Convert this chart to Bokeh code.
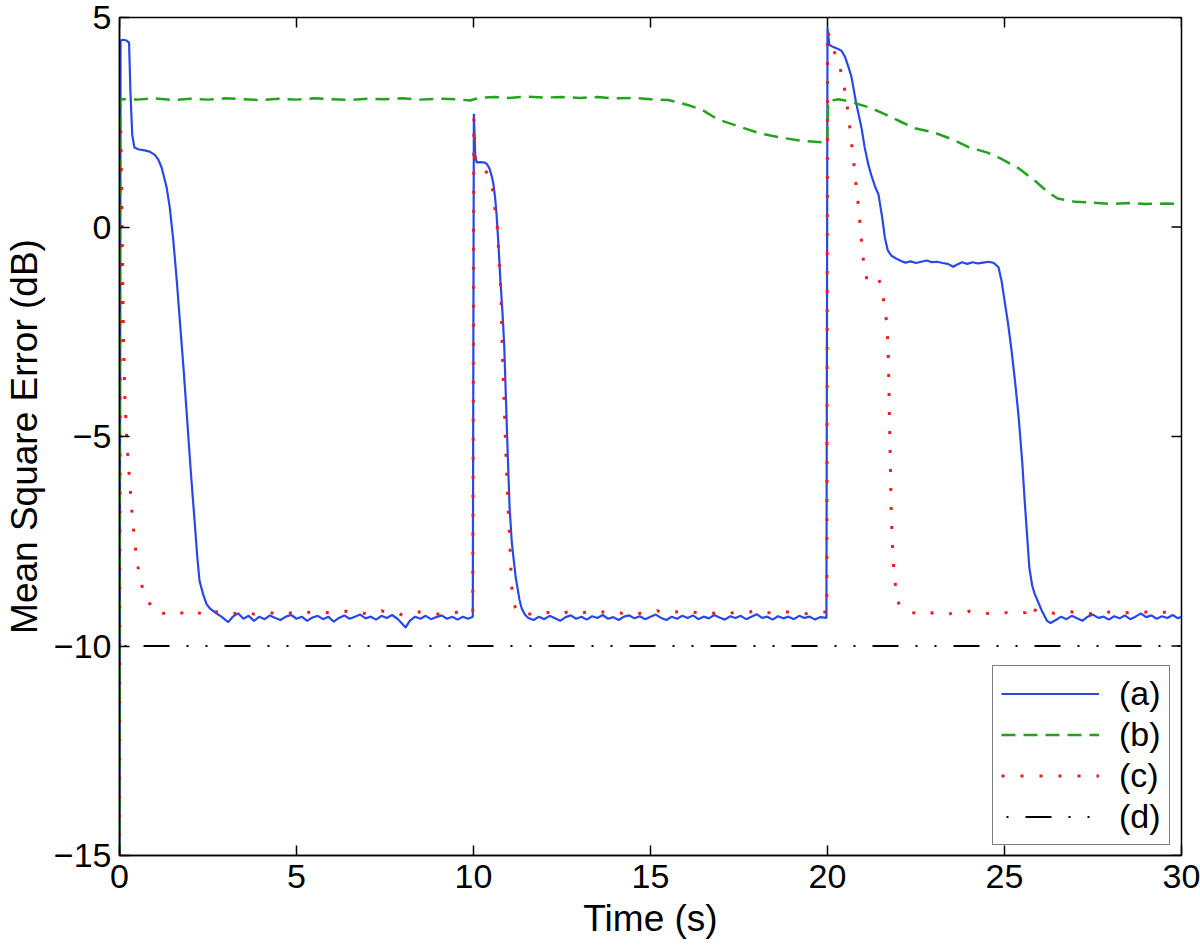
import math
from bokeh.plotting import figure
from bokeh.models import (Legend, LegendItem, FixedTicker,
                          CustomJSTickFormatter, Range1d)
from bokeh.embed import file_html
from bokeh.resources import INLINE

# ---------------- data ----------------
x_ticks = [0, 5, 10, 15, 20, 25, 30]
y_ticks = [-15, -10, -5, 0, 5]
legend_labels = ["(a)", "(b)", "(c)", "(d)"]

# (a) blue solid
t_a = [0.0, 0.03, 0.1, 0.2, 0.27, 0.31, 0.36, 0.42, 0.55, 0.71, 0.85, 1.0, 1.1, 1.19, 1.27, 1.33,
       1.42, 1.52, 1.62, 1.72, 1.82, 1.92, 2.02, 2.12, 2.2, 2.26, 2.36, 2.46, 2.55, 2.7, 2.88, 3.0,
       3.07, 3.2, 3.35, 3.5, 3.65, 3.8, 3.95, 4.1, 4.25, 4.4, 4.55, 4.7, 4.85, 5.0, 5.15, 5.3, 5.45,
       5.6, 5.75, 5.9, 6.05, 6.2, 6.35, 6.5, 6.65, 6.8, 6.95, 7.1, 7.25, 7.4, 7.55, 7.7, 7.85, 8.0,
       8.08, 8.2, 8.35, 8.5, 8.65, 8.8, 8.95, 9.1, 9.25, 9.4, 9.55, 9.7, 9.85, 9.98,
       10.01, 10.05, 10.09, 10.2, 10.31, 10.38, 10.45, 10.52, 10.56, 10.61, 10.65, 10.71, 10.76,
       10.82, 10.87, 10.92, 10.97, 11.02, 11.08, 11.13, 11.19, 11.24, 11.3, 11.36, 11.45,
       11.55, 11.7, 11.85, 12.0, 12.15, 12.3, 12.45, 12.6, 12.75, 12.9, 13.05, 13.2, 13.35, 13.5,
       13.65, 13.8, 13.95, 14.1, 14.25, 14.4, 14.55, 14.7, 14.85, 15.0, 15.15, 15.3, 15.45, 15.6,
       15.75, 15.9, 16.05, 16.2, 16.35, 16.5, 16.65, 16.8, 16.95, 17.1, 17.25, 17.4, 17.55, 17.7,
       17.85, 18.0, 18.15, 18.3, 18.45, 18.6, 18.75, 18.9, 19.05, 19.2, 19.35, 19.5, 19.65, 19.8,
       19.97,
       20.0, 20.05, 20.15, 20.3, 20.4, 20.5, 20.6, 20.68, 20.8, 20.9, 20.96, 21.05, 21.15, 21.25,
       21.35, 21.44, 21.55, 21.62, 21.7, 21.8, 21.95, 22.1, 22.2, 22.35, 22.5, 22.65, 22.8, 22.95,
       23.1, 23.25, 23.4, 23.55, 23.65, 23.8, 23.95, 24.1, 24.25, 24.4, 24.55, 24.7, 24.83, 24.92,
       25.0, 25.1, 25.2, 25.3, 25.4, 25.5, 25.57, 25.65, 25.7, 25.78, 25.85, 25.95, 26.05, 26.2,
       26.3, 26.45, 26.6, 26.75, 26.9, 27.05, 27.2, 27.35, 27.5, 27.65, 27.8, 27.95, 28.1, 28.25,
       28.4, 28.55, 28.7, 28.85, 29.0, 29.15, 29.3, 29.45, 29.6, 29.75, 29.9, 30.0]
mse_a = [-15.0, 4.45, 4.47, 4.45, 4.4, 3.2, 2.2, 1.9, 1.85, 1.83, 1.8, 1.72, 1.6, 1.42, 1.15, 0.95,
         0.47, -0.32, -1.3, -2.4, -3.5, -4.7, -5.9, -7.0, -7.9, -8.44, -8.76, -9.0, -9.1, -9.2, -9.3, -9.38,
         -9.43, -9.3, -9.22, -9.35, -9.28, -9.4, -9.3, -9.36, -9.27, -9.33, -9.38, -9.3, -9.26, -9.35, -9.3, -9.4, -9.32,
         -9.28, -9.36, -9.3, -9.42, -9.33, -9.27, -9.35, -9.3, -9.25, -9.34, -9.3, -9.37, -9.28, -9.33, -9.26, -9.35, -9.48,
         -9.56, -9.4, -9.3, -9.35, -9.28, -9.36, -9.31, -9.27, -9.35, -9.3, -9.37, -9.3, -9.35, -9.3,
         2.7, 1.7, 1.54, 1.55, 1.54, 1.5, 1.4, 1.2, 1.04, 0.7, 0.32, -0.49, -1.28,
         -2.06, -2.87, -4.2, -5.5, -6.7, -7.5, -7.9, -8.35, -8.6, -8.9, -9.1, -9.25,
         -9.33, -9.38, -9.3, -9.36, -9.28, -9.34, -9.4, -9.31, -9.27, -9.35, -9.3, -9.37, -9.29, -9.33,
         -9.26, -9.35, -9.31, -9.38, -9.3, -9.27, -9.34, -9.29, -9.36, -9.3, -9.25, -9.33, -9.38, -9.3,
         -9.35, -9.28, -9.33, -9.27, -9.36, -9.3, -9.34, -9.26, -9.32, -9.37, -9.29, -9.33, -9.28, -9.36,
         -9.3, -9.24, -9.33, -9.3, -9.37, -9.29, -9.34, -9.3, -9.36, -9.28, -9.33, -9.3, -9.37, -9.31,
         -9.33,
         4.76, 4.35, 4.3, 4.25, 4.2, 4.05, 3.8, 3.57, 3.0, 2.6, 2.37, 1.9, 1.5, 1.2,
         0.95, 0.78, 0.2, -0.25, -0.55, -0.68, -0.76, -0.82, -0.85, -0.82, -0.86, -0.83, -0.8, -0.84,
         -0.83, -0.86, -0.88, -0.95, -0.9, -0.84, -0.88, -0.84, -0.87, -0.85, -0.83, -0.86, -0.96, -1.3,
         -1.75, -2.3, -2.95, -3.7, -4.54, -5.6, -6.53, -7.5, -8.12, -8.55, -8.75, -8.95, -9.15, -9.4,
         -9.45, -9.38, -9.3, -9.36, -9.28, -9.34, -9.4, -9.3, -9.25, -9.33, -9.3, -9.37, -9.29, -9.34,
         -9.27, -9.36, -9.3, -9.22, -9.31, -9.27, -9.35, -9.29, -9.33, -9.26, -9.34, -9.3]

# (b) green dashed
t_b = [0.0, 0.02, 0.5, 1.0, 1.5, 2.0, 2.5, 3.0, 3.5, 4.0, 4.5, 5.0, 5.5, 6.0, 6.5, 7.0, 7.5, 8.0,
       8.5, 9.0, 9.5, 9.9, 10.2, 10.6, 11.0, 11.5, 12.0, 12.5, 13.0, 13.5, 14.0, 14.5, 15.0, 15.5,
       15.8, 16.1, 16.45, 16.8, 17.0, 17.5, 18.1, 18.7, 19.27, 19.9, 19.99,
       20.02, 20.3, 20.6, 21.2, 21.6, 22.1, 22.5, 23.0, 23.5, 24.0, 24.5, 24.9, 25.4, 25.85, 26.2,
       26.5, 27.0, 27.5, 28.0, 28.5, 29.0, 29.5, 30.0]
mse_b = [-15.0, 3.05, 3.04, 3.07, 3.03, 3.06, 3.04, 3.07, 3.05, 3.03, 3.06, 3.04, 3.07, 3.05, 3.03,
         3.06, 3.05, 3.07, 3.04, 3.06, 3.05, 3.02, 3.09, 3.1, 3.08, 3.11, 3.09, 3.1, 3.08, 3.1, 3.07,
         3.08, 3.05, 3.03, 2.97, 2.9, 2.8, 2.62, 2.54, 2.4, 2.23, 2.13, 2.06, 2.02, 2.0,
         3.0, 3.05, 3.0, 2.85, 2.7, 2.5, 2.35, 2.26, 2.1, 1.9, 1.78, 1.63, 1.4, 1.11, 0.85,
         0.68, 0.6, 0.58, 0.55, 0.57, 0.55, 0.56, 0.55]

# (c) red dotted
t_c = [0.0, 0.03, 0.05, 0.08, 0.11, 0.15, 0.2, 0.28, 0.37, 0.48, 0.6, 0.7, 0.81, 0.9, 1.0, 1.2, 1.4,
       1.6, 1.8, 2.0, 2.2, 2.4, 2.6, 2.8, 3.0, 3.2, 3.4, 3.6, 3.8, 4.0, 4.2, 4.4, 4.6, 4.8, 5.0, 5.2,
       5.4, 5.6, 5.8, 6.0, 6.2, 6.4, 6.6, 6.8, 7.0, 7.2, 7.4, 7.6, 7.8, 8.0, 8.2, 8.4, 8.6, 8.8, 9.0,
       9.2, 9.4, 9.6, 9.8, 9.98,
       10.01, 10.05, 10.15, 10.31, 10.42, 10.54, 10.6, 10.67, 10.7, 10.73, 10.76, 10.78, 10.8, 10.82,
       10.86, 10.92, 10.98, 11.02, 11.07, 11.13, 11.27, 11.4, 11.6, 11.8, 12.0, 12.2, 12.4, 12.6,
       12.8, 13.0, 13.2, 13.4, 13.6, 13.8, 14.0, 14.2, 14.4, 14.6, 14.8, 15.0, 15.2, 15.4, 15.6, 15.8,
       16.0, 16.2, 16.4, 16.6, 16.8, 17.0, 17.2, 17.4, 17.6, 17.8, 18.0, 18.2, 18.4, 18.6, 18.8, 19.0,
       19.2, 19.4, 19.6, 19.8, 19.98,
       20.0, 20.1, 20.25, 20.37, 20.48, 20.56, 20.62, 20.68, 20.74, 20.79, 20.85, 20.9, 20.94, 20.99,
       21.05, 21.15, 21.25, 21.35, 21.44, 21.53, 21.6, 21.67, 21.7, 21.72, 21.73, 21.74, 21.75, 21.76,
       21.77, 21.78, 21.79, 21.8, 21.82, 21.84, 21.87, 21.95, 22.03, 22.2, 22.4, 22.6, 22.8, 23.0,
       23.2, 23.4, 23.6, 23.8, 24.0, 24.2, 24.4, 24.6, 24.8, 25.0, 25.2, 25.4, 25.6, 25.7, 25.8, 26.0,
       26.2, 26.4, 26.6, 26.8, 27.0, 27.2, 27.4, 27.6, 27.8, 28.0, 28.2, 28.4, 28.6, 28.8, 29.0, 29.2,
       29.4, 29.6, 29.8, 30.0]
mse_c = [-15.0, 2.5, 1.5, -0.5, -2.6, -4.0, -5.0, -6.0, -7.0, -7.9, -8.5, -8.7, -8.9, -9.08, -9.2, -9.21, -9.25,
         -9.18, -9.22, -9.28, -9.2, -9.26, -9.15, -9.2, -9.17, -9.23, -9.2, -9.18, -9.24, -9.2, -9.19, -9.23, -9.17, -9.21, -9.2, -9.24,
         -9.18, -9.22, -9.19, -9.23, -9.2, -9.17, -9.22, -9.19, -9.24, -9.2, -9.16, -9.21, -9.19, -9.27, -9.22, -9.18, -9.21, -9.2, -9.24,
         -9.19, -9.22, -9.18, -9.16, -9.2,
         2.6, 1.6, 1.45, 1.37, 1.25, 0.89, 0.47, 0.0, -0.42, -0.87, -1.32, -1.78, -2.5, -3.1,
         -4.07, -5.5, -6.77, -7.4, -8.5, -8.99, -9.22, -9.2, -9.24, -9.17, -9.21, -9.19, -9.25, -9.2,
         -9.16, -9.22, -9.19, -9.23, -9.18, -9.21, -9.17, -9.22, -9.2, -9.25, -9.19, -9.21, -9.16, -9.22, -9.2, -9.18,
         -9.23, -9.19, -9.21, -9.17, -9.22, -9.2, -9.24, -9.18, -9.21, -9.19, -9.15, -9.22, -9.2, -9.23, -9.18, -9.21,
         -9.19, -9.23, -9.2, -9.17, -9.2,
         4.7, 4.4, 4.05, 3.74, 3.3, 2.85, 2.45, 2.0, 1.56, 1.13, 0.7, 0.27, -0.16, -0.61,
         -1.09, -1.32, -1.25, -1.22, -1.25, -1.4, -1.83, -2.28, -2.7, -3.19, -3.62, -4.07, -4.55, -5.0,
         -5.4, -5.9, -6.34, -6.77, -7.24, -7.67, -8.15, -8.8, -9.03, -9.15, -9.2, -9.24, -9.18, -9.22,
         -9.2, -9.25, -9.19, -9.21, -9.17, -9.22, -9.2, -9.24, -9.19, -9.21, -9.18, -9.22, -9.2, -9.0, -9.12, -9.2,
         -9.17, -9.22, -9.19, -9.16, -9.21, -9.18, -9.23, -9.2, -9.15, -9.21, -9.18, -9.22, -9.17, -9.2, -9.19, -9.16,
         -9.21, -9.18, -9.22, -9.2]

# (d) black dash-dot reference level
t_d = [0.0, 30.0]
mse_d = [-10.0, -10.0]

# ---------------- figure ----------------
FONT = "Liberation Sans"

p = figure(frame_width=1062, frame_height=838,
           x_range=Range1d(0, 30), y_range=Range1d(-15, 5),
           output_backend="svg", toolbar_location=None,
           min_border_left=118, min_border_right=20,
           min_border_top=17, min_border_bottom=88,
           background_fill_color="white", border_fill_color="white")
p.xgrid.visible = False
p.ygrid.visible = False
p.outline_line_color = "black"
p.outline_line_width = 1.5

r_a = p.line(t_a, mse_a, line_color="#2a48e8", line_width=2.2)
r_b = p.line(t_b, mse_b, line_color="#23a31c", line_width=2.5, line_dash="14 8")
r_c = p.line(t_c, mse_c, line_color="#ee1c1c", line_width=3, line_dash="3 16")
r_d = p.line(t_d, mse_d, line_color="black", line_width=2,
             line_dash="26 17 2 17 2 17", line_dash_offset=57)

# mirrored inward ticks on the top and right edges of the box
p.ray(x=x_ticks, y=[5] * len(x_ticks), length=10, length_units="screen",
      angle=-math.pi / 2, line_color="black", line_width=1.5)
p.ray(x=[30] * len(y_ticks), y=y_ticks, length=10, length_units="screen",
      angle=math.pi, line_color="black", line_width=1.5)

minus_fmt = CustomJSTickFormatter(
    code="return tick < 0 ? '\u2212' + Math.abs(tick) : String(tick);")

for ax in (p.xaxis[0], p.yaxis[0]):
    ax.major_tick_in = 10
    ax.major_tick_out = 0
    ax.minor_tick_line_color = None
    ax.axis_line_width = 1.5
    ax.major_tick_line_width = 1.5
    ax.major_label_text_font = FONT
    ax.major_label_text_font_size = "34px"
    ax.major_label_text_color = "black"
    ax.axis_label_text_font = FONT
    ax.axis_label_text_font_size = "37px"
    ax.axis_label_text_font_style = "normal"
    ax.axis_label_text_color = "black"

p.xaxis[0].ticker = FixedTicker(ticks=x_ticks)
p.yaxis[0].ticker = FixedTicker(ticks=y_ticks)
p.yaxis[0].formatter = minus_fmt
p.xaxis[0].axis_label = "Time (s)"
p.yaxis[0].axis_label = "Mean Square Error (dB)"
p.xaxis[0].major_label_standoff = 9
p.yaxis[0].major_label_standoff = 8
p.xaxis[0].axis_label_standoff = 7
p.yaxis[0].axis_label_standoff = 6

legend = Legend(items=[LegendItem(label=lab, renderers=[r])
                       for lab, r in zip(legend_labels, [r_a, r_b, r_c, r_d])],
                location=(873, 10),
                label_text_font=FONT, label_text_font_size="34px",
                label_text_color="black",
                glyph_width=98, glyph_height=37, label_height=37,
                spacing=2, padding=8, margin=0, label_standoff=20,
                border_line_color="black", border_line_width=1.5,
                background_fill_color="white", background_fill_alpha=1.0)
p.add_layout(legend, "center")

open("out.html", "w").write(file_html(p, INLINE))
